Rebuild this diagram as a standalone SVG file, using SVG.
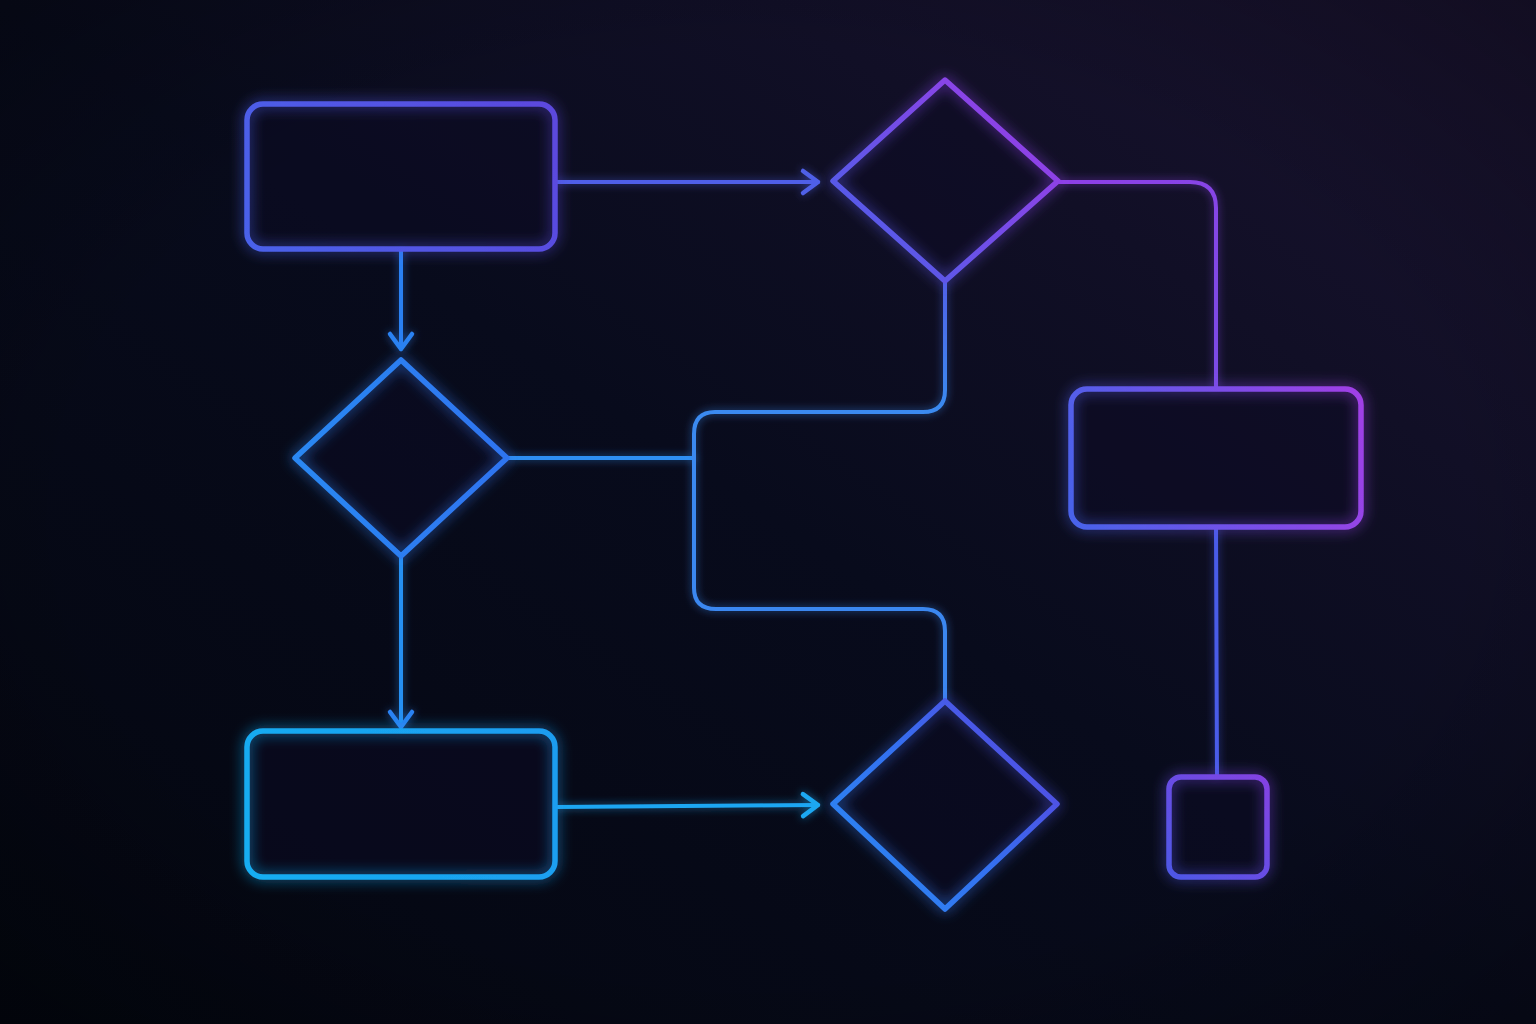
<svg xmlns="http://www.w3.org/2000/svg" width="1536" height="1024" viewBox="0 0 1536 1024">
  <defs>
    <linearGradient id="bg" x1="0" y1="1" x2="1" y2="0">
      <stop offset="0" stop-color="#03060f"/>
      <stop offset="0.5" stop-color="#080b1c"/>
      <stop offset="1" stop-color="#1a1330"/>
    </linearGradient>
    <radialGradient id="vig" cx="0.5" cy="0.5" r="0.75">
      <stop offset="0.6" stop-color="#000000" stop-opacity="0"/>
      <stop offset="1" stop-color="#000000" stop-opacity="0.35"/>
    </radialGradient>
    <filter id="glow" filterUnits="userSpaceOnUse" x="0" y="0" width="1536" height="1024">
      <feGaussianBlur in="SourceGraphic" stdDeviation="7" result="b"/>
      <feComponentTransfer in="b" result="b2"><feFuncA type="linear" slope="0.8"/></feComponentTransfer>
      <feMerge><feMergeNode in="b2"/><feMergeNode in="SourceGraphic"/></feMerge>
    </filter>
    <filter id="glowS" filterUnits="userSpaceOnUse" x="0" y="0" width="1536" height="1024">
      <feGaussianBlur in="SourceGraphic" stdDeviation="4" result="b"/>
      <feComponentTransfer in="b" result="b2"><feFuncA type="linear" slope="0.6"/></feComponentTransfer>
      <feMerge><feMergeNode in="b2"/><feMergeNode in="SourceGraphic"/></feMerge>
    </filter>
    <linearGradient id="gBox1" gradientUnits="userSpaceOnUse" x1="247" y1="249" x2="555" y2="104">
      <stop offset="0" stop-color="#4a62ea"/>
      <stop offset="1" stop-color="#5c48de"/>
    </linearGradient>
    <linearGradient id="gDiaTop" gradientUnits="userSpaceOnUse" x1="860" y1="260" x2="1040" y2="100">
      <stop offset="0" stop-color="#4f5ee8"/>
      <stop offset="1" stop-color="#9a3ce6"/>
    </linearGradient>
    <linearGradient id="gDiaLeft" gradientUnits="userSpaceOnUse" x1="295" y1="458" x2="507" y2="458">
      <stop offset="0" stop-color="#2a88f2"/>
      <stop offset="1" stop-color="#2f74f0"/>
    </linearGradient>
    <linearGradient id="gBox3" gradientUnits="userSpaceOnUse" x1="247" y1="877" x2="555" y2="731">
      <stop offset="0" stop-color="#16aef2"/>
      <stop offset="1" stop-color="#1c9cf0"/>
    </linearGradient>
    <linearGradient id="gDiaBot" gradientUnits="userSpaceOnUse" x1="833" y1="900" x2="1057" y2="720">
      <stop offset="0" stop-color="#2a8af2"/>
      <stop offset="0.5" stop-color="#3470f0"/>
      <stop offset="1" stop-color="#5d42de"/>
    </linearGradient>
    <linearGradient id="gBoxR" gradientUnits="userSpaceOnUse" x1="1071" y1="500" x2="1361" y2="400">
      <stop offset="0" stop-color="#4a62ea"/>
      <stop offset="0.5" stop-color="#7550e8"/>
      <stop offset="1" stop-color="#a040e6"/>
    </linearGradient>
    <linearGradient id="gSmall" gradientUnits="userSpaceOnUse" x1="1169" y1="877" x2="1267" y2="777">
      <stop offset="0" stop-color="#4d58e6"/>
      <stop offset="1" stop-color="#8442e2"/>
    </linearGradient>
    <linearGradient id="gRight" gradientUnits="userSpaceOnUse" x1="1060" y1="182" x2="1216" y2="388">
      <stop offset="0" stop-color="#8e40e6"/>
      <stop offset="1" stop-color="#7a4ce6"/>
    </linearGradient>
    <linearGradient id="gBracket" gradientUnits="userSpaceOnUse" x1="945" y1="281" x2="945" y2="700">
      <stop offset="0" stop-color="#5062e8"/>
      <stop offset="0.3" stop-color="#3a8af0"/>
      <stop offset="1" stop-color="#3a86f0"/>
    </linearGradient>
    <marker id="arrV" viewBox="0 0 30 30" refX="22" refY="15" markerWidth="30" markerHeight="30" markerUnits="userSpaceOnUse" orient="auto">
      <path d="M 7 4 L 22 15 L 7 26" fill="none" stroke="#5060e8" stroke-width="4.5" stroke-linecap="round" stroke-linejoin="round"/>
    </marker>
    <marker id="arrB" viewBox="0 0 30 30" refX="22" refY="15" markerWidth="30" markerHeight="30" markerUnits="userSpaceOnUse" orient="auto">
      <path d="M 7 4 L 22 15 L 7 26" fill="none" stroke="#2a82f2" stroke-width="4.5" stroke-linecap="round" stroke-linejoin="round"/>
    </marker>
    <marker id="arrC" viewBox="0 0 30 30" refX="22" refY="15" markerWidth="30" markerHeight="30" markerUnits="userSpaceOnUse" orient="auto">
      <path d="M 7 4 L 22 15 L 7 26" fill="none" stroke="#1ea8f2" stroke-width="4.5" stroke-linecap="round" stroke-linejoin="round"/>
    </marker>
  </defs>
  <style>
    .node { fill: none; stroke-width: 5.5; stroke-linejoin: round; filter: url(#glow); }
    .fill { fill: #0e0c26; fill-opacity: 0.45; stroke: none; }
    .conn { fill: none; stroke-width: 4; stroke-linecap: round; stroke-linejoin: round; filter: url(#glowS); }
  </style>

  <rect x="0" y="0" width="1536" height="1024" fill="url(#bg)"/>
  <rect x="0" y="0" width="1536" height="1024" fill="url(#vig)"/>

  <g id="connectors">
    <path class="conn" d="M 556 182 L 818 182" stroke="#4f5ee8" marker-end="url(#arrV)"/>
    <path class="conn" d="M 401 250 L 401 349" stroke="#2a80f2" marker-end="url(#arrB)"/>
    <path class="conn" d="M 401 557 L 401 727" stroke="#2890f2" marker-end="url(#arrB)"/>
    <path class="conn" d="M 556 807 L 818 805" stroke="#1ea6f2" marker-end="url(#arrC)"/>
    <path class="conn" d="M 508 458 L 694 458" stroke="#2e8ef2"/>
    <path class="conn" d="M 945 282 L 945 390 Q 945 412 923 412 L 715 412 Q 694 412 694 434 L 694 588 Q 694 609 716 609 L 923 609 Q 945 609 945 631 L 945 700" stroke="url(#gBracket)"/>
    <path class="conn" d="M 1059 182 L 1190 182 Q 1216 182 1216 208 L 1216 388" stroke="url(#gRight)"/>
    <path class="conn" d="M 1216 528 L 1217 777" stroke="#4a5ce8"/>
  </g>

  <g id="node-box1">
    <rect class="fill" x="247" y="104" width="308" height="145" rx="16"/>
    <rect class="node" x="247" y="104" width="308" height="145" rx="16" stroke="url(#gBox1)"/>
  </g>
  <g id="node-diamond-top">
    <polygon class="fill" points="945,80 1058,181 945,281 833,181"/>
    <polygon class="node" points="945,80 1058,181 945,281 833,181" stroke="url(#gDiaTop)"/>
  </g>
  <g id="node-diamond-left">
    <polygon class="fill" points="401,360 507,458 401,556 295,458"/>
    <polygon class="node" points="401,360 507,458 401,556 295,458" stroke="url(#gDiaLeft)"/>
  </g>
  <g id="node-box3">
    <rect class="fill" x="247" y="731" width="308" height="146" rx="16"/>
    <rect class="node" x="247" y="731" width="308" height="146" rx="16" stroke="url(#gBox3)"/>
  </g>
  <g id="node-diamond-bottom">
    <polygon class="fill" points="945,701 1057,804 945,909 833,804"/>
    <polygon class="node" points="945,701 1057,804 945,909 833,804" stroke="url(#gDiaBot)"/>
  </g>
  <g id="node-box-right">
    <rect class="fill" x="1071" y="389" width="290" height="138" rx="16"/>
    <rect class="node" x="1071" y="389" width="290" height="138" rx="16" stroke="url(#gBoxR)"/>
  </g>
  <g id="node-small">
    <rect class="fill" x="1169" y="777" width="98" height="100" rx="12"/>
    <rect class="node" x="1169" y="777" width="98" height="100" rx="12" stroke="url(#gSmall)"/>
  </g>
</svg>
